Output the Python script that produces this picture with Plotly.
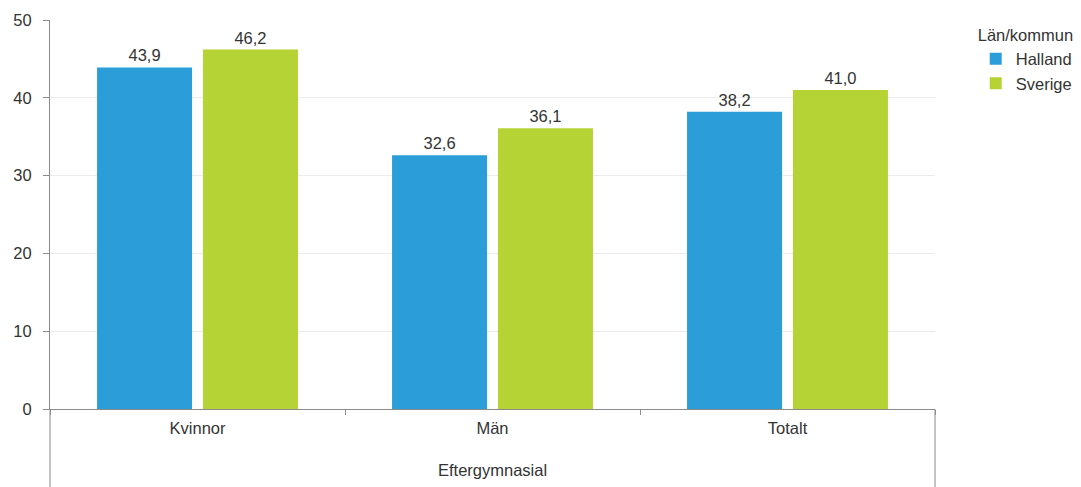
import plotly.graph_objects as go

group = "Eftergymnasial"
categories = ["Kvinnor", "Män", "Totalt"]
halland = [43.9, 32.6, 38.2]
sverige = [46.2, 36.1, 41.0]
y_ticks = [0, 10, 20, 30, 40, 50]

FONT = "Liberation Sans, Arial, sans-serif"
FS = 16.5
TXT = "#333333"
LINE = "#8c8c8c"

fig = go.Figure()
fig.add_trace(go.Bar(
    x=categories, y=halland, name="Halland", marker_color="#2B9EDA", marker_line_width=0,
    width=0.322, offset=-0.3405,
    texttemplate="%{y:.1f}", textposition="outside", cliponaxis=False,
    textfont=dict(size=FS, color=TXT, family=FONT),
))
fig.add_trace(go.Bar(
    x=categories, y=sverige, name="Sverige", marker_color="#B5D334", marker_line_width=0,
    width=0.322, offset=0.0185,
    texttemplate="%{y:.1f}", textposition="outside", cliponaxis=False,
    textfont=dict(size=FS, color=TXT, family=FONT),
))

fig.update_layout(
    width=1073, height=479,
    margin=dict(l=42, r=146, t=12, b=78, autoexpand=False),
    paper_bgcolor="white", plot_bgcolor="white",
    separators=",.",
    font=dict(family=FONT, size=FS, color=TXT),
    legend=dict(
        title=dict(text="Län/kommun", font=dict(size=FS, color=TXT)),
        x=1.046, y=1.0, xanchor="left", yanchor="top",
        font=dict(size=FS, color=TXT),
        itemwidth=30, tracegroupgap=0,
    ),
    showlegend=True,
    annotations=[dict(
        text=group, x=1, xref="x", y=-0.157, yref="paper",
        xanchor="center", yanchor="middle", showarrow=False,
        font=dict(size=FS, color=TXT, family=FONT),
    )],
    shapes=[
        dict(type="line", xref="paper", yref="paper", x0=0, x1=0, y0=0, y1=-0.25,
             line=dict(color=LINE, width=1)),
        dict(type="line", xref="paper", yref="paper", x0=1, x1=1, y0=0, y1=-0.25,
             line=dict(color=LINE, width=1)),
    ],
)
fig.update_xaxes(
    type="category",
    range=[-0.5, 2.5],
    showline=True, linecolor=LINE, linewidth=1,
    ticks="outside", tickson="boundaries", ticklen=5, tickcolor=LINE,
    ticklabelstandoff=4,
    tickfont=dict(size=FS, color=TXT),
    showgrid=False,
)
fig.update_yaxes(
    range=[0, 50], tickvals=y_ticks,
    showline=True, linecolor=LINE, linewidth=1,
    ticks="outside", ticklen=6, tickcolor=LINE,
    ticklabelstandoff=8,
    showgrid=True, gridcolor="#EBEBEB", gridwidth=1,
    zeroline=False,
    tickfont=dict(size=FS, color=TXT),
)

fig.write_html("out.html")
